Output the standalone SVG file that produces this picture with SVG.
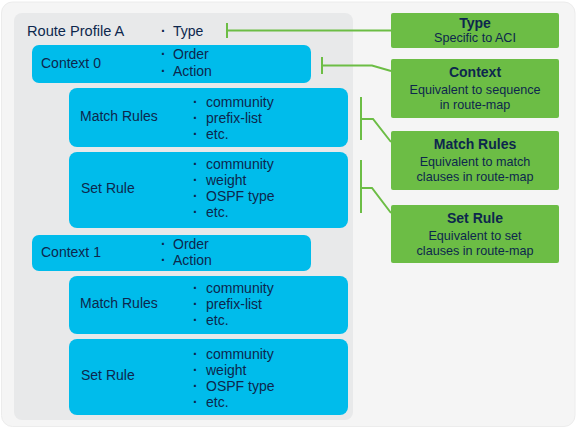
<svg xmlns="http://www.w3.org/2000/svg" width="576" height="428" viewBox="0 0 576 428">
<style>
text{font-family:"Liberation Sans",Arial,sans-serif;fill:#0d274d}
.blue{fill:#00bceb}
.green{fill:#6cbd45}
.lbl{font-size:14px}
.it{font-size:14px}
.b{font-size:14px;font-weight:bold}
.gt{font-size:14px;font-weight:bold;text-anchor:middle}
.gs{font-size:12.6px;text-anchor:middle}
.con{stroke:#6cbd45;stroke-width:2;fill:none}
</style>
<rect x="0" y="0" width="576" height="428" fill="#ffffff"/>
<rect x="1.5" y="2" width="573.5" height="424.5" rx="11" fill="#f5f5f5" stroke="#ececec" stroke-width="1"/>
<g id="route-profile-a">
<rect x="14" y="13" width="339" height="407" rx="8" fill="#e8e9ea"/>
<text x="27" y="36" font-size="14.6">Route Profile A</text>
<text x="161" y="36" class="b">·</text><text x="173" y="36" class="it">Type</text>
</g>
<g id="context-0">
<rect class="blue" x="32" y="45" width="279" height="38" rx="7"/>
<text x="41" y="68" class="lbl">Context 0</text>
<text x="161" y="59" class="b">·</text><text x="173" y="59" class="it">Order</text>
<text x="161" y="76" class="b">·</text><text x="173" y="76" class="it">Action</text>
</g>
<g id="match-rules-0">
<rect class="blue" x="69" y="88" width="279" height="59" rx="8"/>
<text x="80" y="121" class="lbl">Match Rules</text>
<text x="193" y="107" class="b">·</text><text x="206" y="107" class="it">community</text>
<text x="193" y="123" class="b">·</text><text x="206" y="123" class="it">prefix-list</text>
<text x="193" y="139" class="b">·</text><text x="206" y="139" class="it">etc.</text>
</g>
<g id="set-rule-0">
<rect class="blue" x="69" y="152" width="279" height="76" rx="8"/>
<text x="81" y="193" class="lbl">Set Rule</text>
<text x="193" y="169" class="b">·</text><text x="206" y="169" class="it">community</text>
<text x="193" y="185" class="b">·</text><text x="206" y="185" class="it">weight</text>
<text x="193" y="201" class="b">·</text><text x="206" y="201" class="it">OSPF type</text>
<text x="193" y="217" class="b">·</text><text x="206" y="217" class="it">etc.</text>
</g>
<g id="context-1">
<rect class="blue" x="32" y="235" width="279" height="36" rx="7"/>
<text x="41" y="257" class="lbl">Context 1</text>
<text x="161" y="249" class="b">·</text><text x="173" y="249" class="it">Order</text>
<text x="161" y="265" class="b">·</text><text x="173" y="265" class="it">Action</text>
</g>
<g id="match-rules-1">
<rect class="blue" x="69" y="276" width="279" height="58" rx="8"/>
<text x="80" y="308" class="lbl">Match Rules</text>
<text x="193" y="293" class="b">·</text><text x="206" y="293" class="it">community</text>
<text x="193" y="309" class="b">·</text><text x="206" y="309" class="it">prefix-list</text>
<text x="193" y="325" class="b">·</text><text x="206" y="325" class="it">etc.</text>
</g>
<g id="set-rule-1">
<rect class="blue" x="69" y="339" width="279" height="76" rx="8"/>
<text x="81" y="380" class="lbl">Set Rule</text>
<text x="193" y="359" class="b">·</text><text x="206" y="359" class="it">community</text>
<text x="193" y="375" class="b">·</text><text x="206" y="375" class="it">weight</text>
<text x="193" y="391" class="b">·</text><text x="206" y="391" class="it">OSPF type</text>
<text x="193" y="407" class="b">·</text><text x="206" y="407" class="it">etc.</text>
</g>
<g id="note-type">
<rect class="green" x="391" y="13" width="168" height="35" rx="2"/>
<text x="475" y="28" class="gt">Type</text>
<text x="475" y="42" class="gs">Specific to ACI</text>
</g>
<g id="note-context">
<rect class="green" x="391" y="59" width="168" height="59" rx="2"/>
<text x="475" y="77" class="gt">Context</text>
<text x="475" y="94" class="gs">Equivalent to sequence</text>
<text x="475" y="109" class="gs">in route-map</text>
</g>
<g id="note-match">
<rect class="green" x="391" y="131" width="168" height="59" rx="2"/>
<text x="475" y="149" class="gt">Match Rules</text>
<text x="475" y="166" class="gs">Equivalent to match</text>
<text x="475" y="181" class="gs">clauses in route-map</text>
</g>
<g id="note-set">
<rect class="green" x="391" y="205" width="168" height="58" rx="2"/>
<text x="475" y="223" class="gt">Set Rule</text>
<text x="475" y="240" class="gs">Equivalent to set</text>
<text x="475" y="255" class="gs">clauses in route-map</text>
</g>
<g id="connectors" class="con">
<path d="M227 23V38M227 30.5H391"/>
<path d="M322 57V74M322 65.5H372L391 71"/>
<path d="M361 97V140M361 119H373L391 142"/>
<path d="M361 160V213M361 188H372L391 213"/>
</g>
</svg>
